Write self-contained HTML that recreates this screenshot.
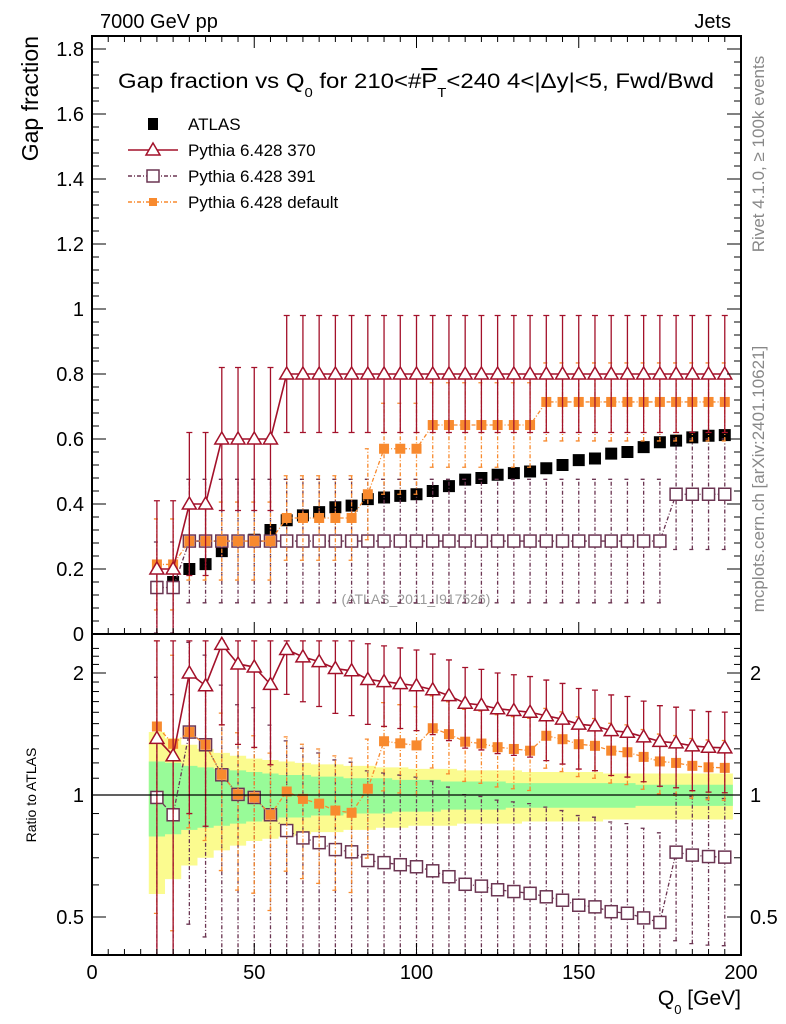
<!DOCTYPE html>
<html><head><meta charset="utf-8"><style>
html,body{margin:0;padding:0;background:#fff;width:786px;height:1024px;overflow:hidden;}
svg{display:block;font-family:"Liberation Sans",sans-serif;}
</style></head><body>
<svg id="c" width="786" height="1024" viewBox="0 0 786 1024" xmlns="http://www.w3.org/2000/svg">
<text x="100" y="28" font-size="20">7000 GeV pp</text>
<text x="731" y="28" font-size="20" text-anchor="end">Jets</text>
<text x="118" y="88" font-size="21" textLength="596" lengthAdjust="spacingAndGlyphs">Gap fraction vs Q<tspan font-size="13" dy="9">0</tspan><tspan dy="-9"> for 210&lt;#</tspan><tspan text-decoration="overline">P</tspan><tspan font-size="13" dy="9">T</tspan><tspan dy="-9">&lt;240  4&lt;|Δy|&lt;5, Fwd/Bwd</tspan></text>
<text transform="translate(38,36) rotate(-90)" font-size="23" text-anchor="end">Gap fraction</text>
<text transform="translate(36,795) rotate(-90)" font-size="14" text-anchor="middle">Ratio to ATLAS</text>
<text transform="translate(764,154) rotate(-90)" font-size="17" fill="#888" text-anchor="middle">Rivet 4.1.0, ≥ 100k events</text>
<text transform="translate(764,479) rotate(-90)" font-size="17" fill="#888" text-anchor="middle">mcplots.cern.ch [arXiv:2401.10621]</text>
<text x="416" y="604" font-size="14" fill="#999" text-anchor="middle">(ATLAS_2011_I917526)</text>
<text x="741" y="1005" font-size="21" text-anchor="end">Q<tspan font-size="13" dy="9">0</tspan><tspan dy="-9"> [GeV]</tspan></text>
<g id="g"></g>
</svg>
<script>
const xs=[20,25,30,35,40,45,50,55,60,65,70,75,80,85,90,95,100,105,110,115,120,125,130,135,140,145,150,155,160,165,170,175,180,185,190,195];
const atlas=[0.145,0.16,0.20,0.215,0.255,0.285,0.29,0.32,0.35,0.365,0.375,0.39,0.395,0.415,0.42,0.425,0.43,0.44,0.455,0.475,0.48,0.49,0.495,0.50,0.51,0.52,0.535,0.54,0.555,0.56,0.575,0.59,0.595,0.605,0.61,0.612];
const atlasStat=[0.21,0.2,0.18,0.17,0.16,0.15,0.14,0.13,0.12,0.12,0.11,0.11,0.10,0.10,0.10,0.09,0.09,0.09,0.08,0.08,0.08,0.08,0.07,0.07,0.07,0.07,0.07,0.07,0.07,0.07,0.06,0.06,0.06,0.06,0.06,0.06];
const atlasTot=[0.43,0.38,0.33,0.30,0.27,0.25,0.23,0.22,0.21,0.20,0.19,0.19,0.18,0.18,0.17,0.17,0.16,0.16,0.16,0.15,0.15,0.15,0.15,0.14,0.14,0.14,0.14,0.14,0.13,0.13,0.13,0.13,0.13,0.13,0.13,0.13];
const p370=[0.2,0.2,0.4,0.4,0.6,0.6,0.6,0.6,0.8,0.8,0.8,0.8,0.8,0.8,0.8,0.8,0.8,0.8,0.8,0.8,0.8,0.8,0.8,0.8,0.8,0.8,0.8,0.8,0.8,0.8,0.8,0.8,0.8,0.8,0.8,0.8];
const e370=[0.21,0.21,0.22,0.22,0.22,0.22,0.22,0.22,0.18,0.18,0.18,0.18,0.18,0.18,0.18,0.18,0.18,0.18,0.18,0.18,0.18,0.18,0.18,0.18,0.18,0.18,0.18,0.18,0.18,0.18,0.18,0.18,0.18,0.18,0.18,0.18];
const p391=[0.143,0.143,0.286,0.286,0.286,0.286,0.286,0.286,0.286,0.286,0.286,0.286,0.286,0.286,0.286,0.286,0.286,0.286,0.286,0.286,0.286,0.286,0.286,0.286,0.286,0.286,0.286,0.286,0.286,0.286,0.286,0.286,0.43,0.43,0.43,0.43];
const e391=[0.14,0.14,0.19,0.19,0.19,0.19,0.19,0.19,0.19,0.19,0.19,0.19,0.19,0.19,0.19,0.19,0.19,0.19,0.19,0.19,0.19,0.19,0.19,0.19,0.19,0.19,0.19,0.19,0.19,0.19,0.19,0.19,0.17,0.17,0.17,0.17];
const pdef=[0.214,0.214,0.286,0.286,0.286,0.286,0.286,0.286,0.357,0.357,0.357,0.357,0.357,0.43,0.57,0.57,0.57,0.643,0.643,0.643,0.643,0.643,0.643,0.643,0.714,0.714,0.714,0.714,0.714,0.714,0.714,0.714,0.714,0.714,0.714,0.714];
const edef=[0.14,0.14,0.12,0.12,0.12,0.12,0.12,0.12,0.13,0.13,0.13,0.13,0.13,0.14,0.14,0.14,0.14,0.13,0.13,0.13,0.13,0.13,0.13,0.13,0.12,0.12,0.12,0.12,0.12,0.12,0.12,0.12,0.12,0.12,0.12,0.12];
const yTicks=[0,0.2,0.4,0.6,0.8,1,1.2,1.4,1.6,1.8];
const yTickLabels=["0","0.2","0.4","0.6","0.8","1","1.2","1.4","1.6","1.8"];
const xTicks=[0,50,100,150,200];
const rTicks=[0.5,1,2];
const rTickLabels=["0.5","1","2"];

const NS="http://www.w3.org/2000/svg";
const G=document.getElementById('g');
const L=92,R=741,T=36,MB=634,RB=955;
const RMIN=0.4,RMAX=2.4,YMIN=0,YMAX=1.84;
const X=v=>L+v*(R-L)/200;
const Y=v=>MB-v*325;
const YR=r=>795-122*Math.log2(r);
function mk(tag,at,par){const e=document.createElementNS(NS,tag);for(const k in at)e.setAttribute(k,at[k]);(par||G).appendChild(e);return e;}

const defs=mk('defs',{});
const c1=mk('clipPath',{id:'cm'},defs);mk('rect',{x:L,y:T,width:R-L,height:MB-T},c1);
const c2=mk('clipPath',{id:'cr'},defs);mk('rect',{x:L,y:MB,width:R-L,height:RB-MB},c2);
const gm=mk('g',{'clip-path':'url(#cm)'});


const gr=mk('g',{'clip-path':'url(#cr)'});



function band(err,col,name){
  let up='',dn='';
  xs.forEach((x,i)=>{const a=X(x-2.5),b=X(x+2.5);up+=`L${a},${YR(1+err[i])}L${b},${YR(1+err[i])}`;dn=`L${b},${YR(1-err[i])}L${a},${YR(1-err[i])}`+dn;});
  const p=mk('path',{d:'M'+up.slice(1)+dn+'Z',fill:col},gr);
  
  
}
band(atlasTot,'#fbfb8f','atlas-total-band');
band(atlasStat,'#98fb98','atlas-stat-band');
const one=mk('line',{x1:L,x2:R,y1:YR(1),y2:YR(1),stroke:'#000','stroke-width':1.3});



const clamp=(v,a,b)=>Math.min(Math.max(v,a),b);
function series(vals,errs,col,dash,marker,name,sw){
  [[gm,Y,false],[gr,YR,true]].forEach(([par,fy,ratio])=>{
    const g=mk('g',{},par);
    
    
    const val=i=>ratio?vals[i]/atlas[i]:vals[i];
    const lo=i=>ratio?clamp((vals[i]-errs[i])/atlas[i],RMIN,RMAX):clamp(vals[i]-errs[i],YMIN,YMAX);
    const hi=i=>ratio?clamp((vals[i]+errs[i])/atlas[i],RMIN,RMAX):clamp(vals[i]+errs[i],YMIN,YMAX);
    xs.forEach((x,i)=>{
      const cx=X(x);
      const eb=mk('path',{d:`M${cx},${fy(lo(i))}V${fy(hi(i))}M${cx-3},${fy(lo(i))}h6M${cx-3},${fy(hi(i))}h6`,stroke:col,'stroke-width':1.3,'stroke-dasharray':dash,fill:'none'},g);
      
      
    });
    let d='';xs.forEach((x,i)=>{d+=(i?'L':'M')+X(x)+','+fy(val(i));});
    mk('path',{d,stroke:col,'stroke-width':sw,'stroke-dasharray':dash,fill:'none'},g);
    xs.forEach((x,i)=>{
      const cx=X(x),cy=fy(val(i));let m;
      if(marker==='tri')m=mk('path',{d:`M${cx},${cy-7}L${cx+7},${cy+5}L${cx-7},${cy+5}Z`,fill:'#fff',stroke:col,'stroke-width':1.5},g);
      else if(marker==='osq')m=mk('rect',{x:cx-6,y:cy-6,width:12,height:12,fill:'#fff',stroke:col,'stroke-width':1.5},g);
      else m=mk('rect',{x:cx-5,y:cy-5,width:10,height:10,fill:col},g);
      
      
    });
  });
}
(function(){
  const g=mk('g',{},gm);
  
  
  xs.forEach((x,i)=>{
    const m=mk('rect',{x:X(x)-6,y:Y(atlas[i])-6,width:12,height:12,fill:'#000'},g);
    
    
  });
})();
series(p391,e391,'#6b3552','4,2,1,2','osq','pythia-391',1.3);
series(pdef,edef,'#f88a2e','4,2,1,2','fsq','pythia-default',1.3);
series(p370,e370,'#a3112a','none','tri','pythia-370',1.6);

[[T,MB],[MB,RB]].forEach(([a,b],k)=>{
  const f=mk('rect',{x:L,y:a,width:R-L,height:b-a,fill:'none',stroke:'#000','stroke-width':2});
  
  
});
for(let v=0;v<=200;v+=5){const major=v%50===0;const h=major?12:6;
  [[MB,1],[RB,1],[T,-1]].forEach(([y0,s])=>{mk('line',{x1:X(v),x2:X(v),y1:y0,y2:y0-s*h,stroke:'#000'});});
}
xTicks.forEach(v=>{const t=mk('text',{x:X(v),y:979,'font-size':20,'text-anchor':'middle'});t.textContent=v;
  });
for(let k=0;k<=18*5+1;k++){const v=k*0.04;if(Y(v)<T)break;const major=k%5===0;const h=major?14:7;
  mk('line',{x1:L,x2:L+h,y1:Y(v),y2:Y(v),stroke:'#000'});mk('line',{x1:R,x2:R-h,y1:Y(v),y2:Y(v),stroke:'#000'});}
yTicks.forEach((v,i)=>{const t=mk('text',{x:84,y:Y(v)+7,'font-size':20,'text-anchor':'end'});t.textContent=yTickLabels[i];
  });
[0.4,0.5,0.6,0.7,0.8,0.9,1,1.1,1.2,1.3,1.4,1.5,1.6,1.7,1.8,1.9,2,2.1,2.2,2.3].forEach(v=>{const y=YR(v);if(y<MB||y>RB)return;
  const h=rTicks.includes(v)?14:7;mk('line',{x1:L,x2:L+h,y1:y,y2:y,stroke:'#000'});mk('line',{x1:R,x2:R-h,y1:y,y2:y,stroke:'#000'});});
rTicks.forEach((v,i)=>{
  const t=mk('text',{x:84,y:YR(v)+7,'font-size':20,'text-anchor':'end'});t.textContent=rTickLabels[i];
  
  const t2=mk('text',{x:750,y:YR(v)+7,'font-size':20});t2.textContent=rTickLabels[i];
  
});
const leg=[['ATLAS','#000','none','fsqk'],['Pythia 6.428 370','#a3112a','none','tri'],['Pythia 6.428 391','#6b3552','4,2,1,2','osq'],['Pythia 6.428 default','#f88a2e','4,2,1,2','fsq']];
leg.forEach((e,i)=>{const y=124+i*26;const g=mk('g',{});
  
  
  const cx=153;
  if(i>0)mk('line',{x1:128,x2:178,y1:y,y2:y,stroke:e[1],'stroke-width':1.5,'stroke-dasharray':e[2]},g);
  if(e[3]==='tri')mk('path',{d:`M${cx},${y-7}L${cx+7},${y+5}L${cx-7},${y+5}Z`,fill:'#fff',stroke:e[1],'stroke-width':1.5},g);
  else if(e[3]==='osq')mk('rect',{x:cx-6,y:y-6,width:12,height:12,fill:'#fff',stroke:e[1],'stroke-width':1.5},g);
  else if(e[3]==='fsqk')mk('rect',{x:cx-5,y:y-6,width:10,height:12,fill:'#000'},g);
  else mk('rect',{x:cx-4,y:y-4,width:8,height:8,fill:e[1]},g);
  const t=mk('text',{x:188,y:y+6,'font-size':17},g);t.textContent=e[0];
});
</script>
</body></html>
